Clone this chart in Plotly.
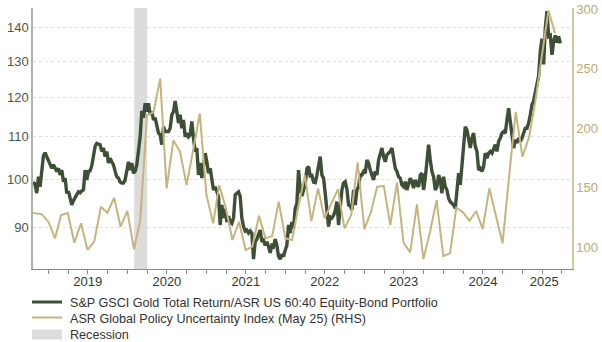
import pandas as pd
import numpy as np
import plotly.graph_objects as go

# ---------------- data ----------------
gold_start, gold_end = "2018-10-23", "2025-06-24"
gold_ratio = [
    99.6, 98.9, 97.1, 100.7, 98.5, 101.9, 105.5, 106.2, 105.3, 104.6, 103.8, 102.6, 103.4, 102.5, 101.9, 102.6,
    101.1, 102.2, 99.6, 100.4, 97.1, 97.5, 96.2, 94.6, 95.5, 96.3, 96.8, 97.4, 97.2, 97.6, 97.8, 102.2,
    100.0, 101.9, 102.0, 103.2, 105.0, 107.7, 108.4, 108.3, 108.1, 106.5, 107.3, 105.3, 106.5, 103.8, 104.9, 104.1,
    103.4, 101.9, 100.7, 100.4, 99.5, 99.3, 99.3, 100.0, 102.6, 104.1, 102.2, 103.8, 101.5, 101.9, 103.4, 106.5,
    110.0, 116.5, 114.7, 118.5, 116.3, 118.5, 115.5, 116.3, 114.2, 114.7, 112.5, 110.9, 110.5, 108.1, 112.5, 111.3,
    111.3, 111.3, 112.1, 115.5, 116.3, 119.1, 116.3, 113.4, 115.5, 112.1, 114.2, 110.0, 110.9, 110.0, 110.5, 113.8,
    109.7, 106.5, 107.3, 101.1, 103.8, 100.4, 103.2, 106.1, 104.1, 101.5, 102.6, 100.4, 97.8, 98.5, 97.4, 96.4,
    90.5, 94.6, 91.9, 93.8, 91.1, 92.3, 91.1, 90.8, 91.9, 96.7, 97.1, 97.4, 96.4, 91.9, 90.2, 89.3,
    89.5, 88.9, 89.3, 88.9, 83.9, 87.2, 87.7, 88.9, 89.5, 87.2, 87.5, 86.5, 87.2, 86.3, 85.1, 86.5,
    86.3, 87.7, 86.5, 84.4, 83.9, 84.8, 84.4, 85.6, 86.5, 90.5, 88.9, 91.1, 89.9, 93.9, 94.9, 102.2,
    98.0,
    96.5, 97.5, 99.0, 102.5, 103.0, 100.9, 101.0, 99.5, 99.4, 101.0, 103.4, 105.3, 101.1, 100.4, 97.1, 93.2,
    90.2, 92.1, 91.9, 92.4, 93.5, 95.3, 90.5, 94.0, 97.8, 99.3, 99.6, 98.0, 94.6, 94.4, 93.6, 97.8,
    94.6, 97.8, 98.5, 101.1, 101.1, 101.9, 101.5, 104.5, 103.8, 102.2, 101.1, 100.0, 101.9, 101.1, 104.5, 106.1,
    107.3, 105.3, 104.1, 105.7, 106.1, 106.5, 107.3, 104.5, 102.6, 101.9, 100.7, 100.4, 98.9, 98.5, 99.6, 97.8,
    98.9, 100.4, 99.6, 98.2, 100.0, 98.9, 98.5, 101.1, 101.5, 97.8, 100.4, 103.4, 108.1, 104.5, 101.9, 100.7,
    97.8, 98.5, 101.1, 100.0, 97.1, 100.7, 98.5, 97.8, 96.0, 95.3, 94.9, 94.6, 93.9, 97.4, 101.5, 98.9,
    104.1, 108.1, 112.5, 111.7, 109.7, 107.3, 109.7, 110.9, 107.7, 106.5, 102.2, 102.6, 101.9, 103.0, 106.1, 104.9,
    106.1, 106.5, 106.1, 107.3, 108.1, 106.5, 108.9, 109.7, 110.9, 111.3, 110.9, 114.2, 117.2, 113.8, 110.5, 107.3,
    109.3, 108.5, 109.7, 108.9, 109.7, 111.3, 112.1, 112.1, 113.4, 115.5, 118.1, 119.1, 121.1, 123.3, 125.9, 133.0,
    136.7, 129.1, 140.0, 145.3, 137.4, 137.7, 131.9, 135.9, 137.7, 135.5, 137.4, 135.3,
]
gold_dates = pd.date_range(gold_start, gold_end, periods=len(gold_ratio))

unc_start, unc_end = "2018-09-30", "2025-05-31"
uncertainty = [
    129.0, 128.3, 127.7, 121.3,
    107.3, 126.9, 128.6, 103.6, 119.9, 97.5, 104.5, 133.9, 128.8, 141.4, 117.1, 130.3,
    98.0, 122.7, 210.9, 213.2, 241.7, 149.3, 189.9, 180.1, 152.1, 182.0, 212.3, 143.7,
    119.9, 152.1, 132.5, 105.9, 121.3, 97.5, 100.3, 126.3, 107.3, 109.2, 138.1, 107.3,
    105.9, 133.0, 160.5, 121.8, 149.3, 124.1, 136.4, 148.7, 115.7, 126.9, 171.2, 115.1,
    129.7, 150.7, 151.3, 118.5, 154.4, 103.6, 95.5, 135.9, 89.9, 112.9, 139.5, 92.4,
    94.7, 133.0, 129.2, 122.1, 130.3, 115.1, 149.3, 126.9, 103.1, 161.0, 213.7, 175.9,
    192.7, 222.0, 261.0, 299.0, 279.6,
]
unc_dates = pd.date_range(unc_start, unc_end, freq="ME")

recession_start, recession_end = "2020-02-01", "2020-04-01"

year_labels = ["2019", "2020", "2021", "2022", "2023", "2024", "2025"]
year_label_dates = ["2019-07-01", "2020-07-01", "2021-07-01", "2022-07-01",
                    "2023-07-01", "2024-07-01", "2025-04-11"]
quarter_ticks = pd.date_range("2019-01-01", "2025-07-01", freq="QS")

left_ticks = [90, 100, 110, 120, 130, 140]
right_ticks = [100, 150, 200, 250, 300]

name_gold = "S&P GSCI Gold Total Return/ASR US 60:40 Equity-Bond Portfolio"
name_unc = "ASR Global Policy Uncertainty Index (May 25) (RHS)"
name_rec = "Recession"

# ---------------- styles / layout ----------------
GREEN = "#3d5036"
TAN = "#c6b47c"
GREY_REC = "#dcdcdc"
FONT = "Liberation Sans"
W, H = 602, 342
ML, MR, MT, MB = 33, 30, 8, 73
PW, PH = W - ML - MR, H - MT - MB


def px2x(px):
    return (px - ML) / PW


def px2y(py):
    return (H - MB - py) / PH


fig = go.Figure()

fig.add_shape(type="rect", xref="x", yref="paper", x0=recession_start, x1=recession_end,
              y0=0, y1=1, fillcolor=GREY_REC, line_width=0, layer="below")

fig.add_trace(go.Scatter(x=gold_dates, y=gold_ratio, mode="lines",
                         line=dict(color=GREEN, width=3.4), name=name_gold,
                         yaxis="y", showlegend=False))
fig.add_trace(go.Scatter(x=unc_dates, y=uncertainty, mode="lines",
                         line=dict(color=TAN, width=2), name=name_unc,
                         yaxis="y2", showlegend=False))

# manual legend (real text annotations + symbol shapes)
fig.add_shape(type="line", xref="paper", yref="paper", x0=px2x(32), x1=px2x(62),
              y0=px2y(302), y1=px2y(302), line=dict(color=GREEN, width=3))
fig.add_shape(type="line", xref="paper", yref="paper", x0=px2x(32), x1=px2x(62),
              y0=px2y(317.5), y1=px2y(317.5), line=dict(color=TAN, width=2))
fig.add_shape(type="rect", xref="paper", yref="paper", x0=px2x(32), x1=px2x(62),
              y0=px2y(339.5), y1=px2y(329.5), fillcolor=GREY_REC, line_width=0)
for txt, yy in [(name_gold, 303), (name_unc, 319), (name_rec, 335)]:
    fig.add_annotation(text=txt, xref="paper", yref="paper", x=px2x(68), y=px2y(yy),
                       xanchor="left", yanchor="middle", showarrow=False,
                       font=dict(family=FONT, size=12.6, color="#333333"))

fig.update_layout(
    width=W, height=H,
    margin=dict(l=ML, r=MR, t=MT, b=MB, autoexpand=False),
    paper_bgcolor="white", plot_bgcolor="white",
    font=dict(family=FONT, size=13, color="#333333"),
    showlegend=False,
    xaxis=dict(
        type="date", range=["2018-10-21", "2025-08-17"],
        tickvals=year_label_dates, ticktext=year_labels,
        ticks="", showgrid=False, zeroline=False,
        showline=True, linecolor="#8a8a8a", linewidth=1,
        tickfont=dict(family=FONT, size=13, color="#2f3b2f"),
        minor=dict(tickvals=list(quarter_ticks), ticks="outside", ticklen=4,
                   tickcolor="#8a8a8a", showgrid=False),
    ),
    yaxis=dict(
        type="log", range=[np.log10(82.1), np.log10(146.3)],
        tickvals=left_ticks, ticktext=[str(t) for t in left_ticks],
        showgrid=True, gridcolor="#e0e0e0", griddash="dot", gridwidth=1,
        zeroline=False, showline=True, linecolor="#a9b6a6", linewidth=1.5,
        ticks="", tickfont=dict(family=FONT, size=13, color="#4b5a48"),
    ),
    yaxis2=dict(
        overlaying="y", side="right", range=[81.5, 301.1],
        tickvals=right_ticks, showgrid=False, zeroline=False,
        showline=True, linecolor="#d4c79a", linewidth=1.5, ticks="",
        tickfont=dict(family=FONT, size=13, color="#bdaa70"),
    ),
)

fig.write_html("out.html")
